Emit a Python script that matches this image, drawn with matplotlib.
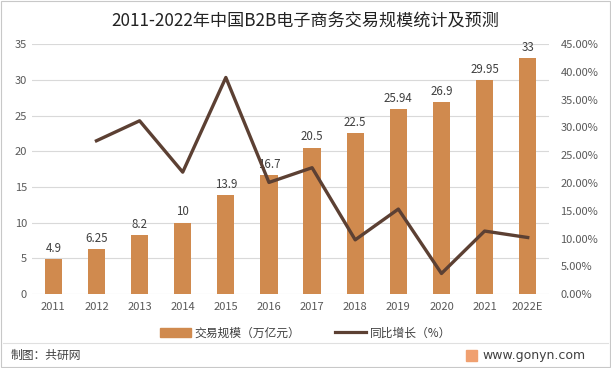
import matplotlib.pyplot as plt
import matplotlib.patches as mpatches
from matplotlib.lines import Line2D
from matplotlib.ticker import FuncFormatter
import numpy as np

plt.rcParams['font.family'] = ['Noto Sans CJK SC', 'DejaVu Sans']

years = ['2011', '2012', '2013', '2014', '2015', '2016', '2017', '2018', '2019', '2020', '2021', '2022E']
scale = [4.9, 6.25, 8.2, 10, 13.9, 16.7, 20.5, 22.5, 25.94, 26.9, 29.95, 33]
labels = ['4.9', '6.25', '8.2', '10', '13.9', '16.7', '20.5', '22.5', '25.94', '26.9', '29.95', '33']
growth = [np.nan, 27.6, 31.2, 21.95, 39.0, 20.1, 22.75, 9.76, 15.3, 3.7, 11.34, 10.18]

bar_color = '#D08A4E'
line_color = '#5C4033'
txt = '#404040'

fig = plt.figure(figsize=(6.11, 3.68), dpi=100)
ax = fig.add_axes([0.052, 0.201, 0.847, 0.679])
x = np.arange(len(years))
ax.bar(x, scale, width=0.4, color=bar_color, zorder=2)
for xi, v, s in zip(x, scale, labels):
    ax.text(xi, v + 0.6, s, ha='center', va='bottom', fontsize=8.3, color=txt, zorder=3)
ax.set_ylim(0, 35)
ax.set_yticks(range(0, 36, 5))
ax.set_xlim(-0.5, len(years) - 0.5)
ax.set_xticks(x)
ax.set_xticklabels(years)
ax.grid(axis='y', color='#d9d9d9', linewidth=0.8, zorder=0)
for s in ax.spines.values():
    s.set_visible(False)
ax.tick_params(length=0, labelsize=8, colors='#595959')
ax.tick_params(axis='x', pad=6)

ax2 = ax.twinx()
ax2.plot(x, growth, color=line_color, linewidth=2.4, zorder=4)
ax2.set_ylim(0, 45)
ax2.set_yticks(range(0, 46, 5))
ax2.yaxis.set_major_formatter(FuncFormatter(lambda v, p: f'{v:.2f}%'))
for s in ax2.spines.values():
    s.set_visible(False)
ax2.tick_params(length=0, labelsize=8, colors='#595959', pad=8)

fig.text(0.5, 0.942, '2011-2022年中国B2B电子商务交易规模统计及预测', ha='center', va='center',
         fontsize=12.3, color='#222222')

handles = [mpatches.Patch(color=bar_color), Line2D([0], [0], color=line_color, linewidth=2.3)]
fig.legend(handles, ['交易规模（万亿元）', '同比增长（%）'], loc='center', bbox_to_anchor=(0.5, 0.095),
           ncol=2, frameon=False, fontsize=8.5, handlelength=2.6, handletextpad=0.3,
           columnspacing=3, labelcolor=txt)

fig.add_artist(Line2D([0.005, 0.995], [0.068, 0.068], color='#e0e0e0', linewidth=0.8))
fig.text(0.018, 0.033, '制图：共研网', ha='left', va='center', fontsize=8.5, color=txt)
fig.add_artist(mpatches.Rectangle((0.763, 0.018), 0.018, 0.03, color='#F0A070'))
fig.text(0.79, 0.033, 'www.gonyn.com', ha='left', va='center', fontsize=9, color=txt,
         family='DejaVu Sans')
fig.add_artist(mpatches.Rectangle((0.002, 0.002), 0.996, 0.996, fill=False, edgecolor='#c8c8c8',
                                  linewidth=0.8))

fig.savefig('out.png', dpi=100)
